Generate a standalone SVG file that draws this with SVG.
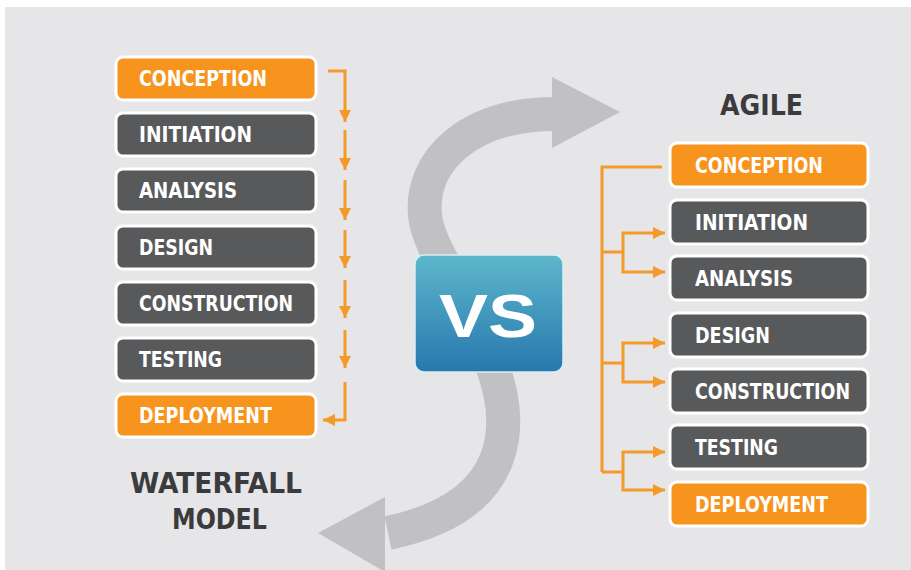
<svg xmlns="http://www.w3.org/2000/svg" width="911" height="570" viewBox="0 0 911 570">
<defs>
<linearGradient id="vsg" x1="0" y1="0" x2="0" y2="1">
<stop offset="0" stop-color="#5db7cc"/>
<stop offset="1" stop-color="#2778ad"/>
</linearGradient>
<marker id="ah" markerUnits="userSpaceOnUse" markerWidth="12" markerHeight="12" refX="12" refY="6" orient="auto">
<path d="M0,0 L12,6 L0,12 z" fill="#f39a2b"/>
</marker>
</defs>
<style>
.box rect{stroke:#ffffff;stroke-width:3}
.or rect{fill:#f7941e}
.dk rect{fill:#58595b}
.box text{font-family:"DejaVu Sans Condensed","DejaVu Sans","Liberation Sans",sans-serif;font-weight:bold;font-size:21px;fill:#ffffff}
.ttl{font-family:"DejaVu Sans Condensed","DejaVu Sans","Liberation Sans",sans-serif;font-weight:bold;fill:#3b3b3d}
.cn{fill:none;stroke:#f39a2b;stroke-width:3}
</style>
<rect x="0" y="0" width="911" height="570" fill="#ffffff"/>
<rect x="5" y="7" width="906" height="563" fill="#e6e6e8"/>

<g id="s-arrow" fill="#c1c1c3">
<path d="M555 114 C470 114 420 160 425 215 C428 252 472 300 490 360 C512 415 522 505 388 533" fill="none" stroke="#c1c1c3" stroke-width="34"/>
<polygon points="552,77 620,112 552,148"/>
<polygon points="385,497 318,533 385,572"/>
</g>

<g id="vs">
<rect x="415" y="255" width="148" height="117" rx="9" fill="url(#vsg)" stroke="#d9eef4" stroke-width="1.5"/>
<text x="439" y="337" textLength="98" lengthAdjust="spacingAndGlyphs" font-family="'Liberation Sans',Arial,sans-serif" font-weight="bold" font-size="61" fill="#ffffff">VS</text>
</g>

<g id="w-conception" class="box or"><rect x="116" y="57" width="200" height="43" rx="7"/><text x="139" y="86" textLength="128" lengthAdjust="spacingAndGlyphs">CONCEPTION</text></g>
<g id="w-initiation" class="box dk"><rect x="116" y="113" width="200" height="43" rx="7"/><text x="139" y="142" textLength="113" lengthAdjust="spacingAndGlyphs">INITIATION</text></g>
<g id="w-analysis" class="box dk"><rect x="116" y="169" width="200" height="43" rx="7"/><text x="139" y="198" textLength="98" lengthAdjust="spacingAndGlyphs">ANALYSIS</text></g>
<g id="w-design" class="box dk"><rect x="116" y="226" width="200" height="43" rx="7"/><text x="139" y="255" textLength="74" lengthAdjust="spacingAndGlyphs">DESIGN</text></g>
<g id="w-construction" class="box dk"><rect x="116" y="282" width="200" height="43" rx="7"/><text x="139" y="311" textLength="154" lengthAdjust="spacingAndGlyphs">CONSTRUCTION</text></g>
<g id="w-testing" class="box dk"><rect x="116" y="338" width="200" height="43" rx="7"/><text x="139" y="367" textLength="83" lengthAdjust="spacingAndGlyphs">TESTING</text></g>
<g id="w-deployment" class="box or"><rect x="116" y="394" width="200" height="43" rx="7"/><text x="139" y="423" textLength="133" lengthAdjust="spacingAndGlyphs">DEPLOYMENT</text></g>

<g id="waterfall-title" class="ttl" font-size="29">
<text x="130" y="493" textLength="172" lengthAdjust="spacingAndGlyphs">WATERFALL</text>
<text x="172" y="529" textLength="95" lengthAdjust="spacingAndGlyphs">MODEL</text>
</g>

<g id="agile-title" class="ttl" font-size="28">
<text x="720" y="115" textLength="83" lengthAdjust="spacingAndGlyphs">AGILE</text>
</g>

<g id="a-conception" class="box or"><rect x="670" y="143" width="198" height="44" rx="7"/><text x="695" y="173" textLength="128" lengthAdjust="spacingAndGlyphs">CONCEPTION</text></g>
<g id="a-initiation" class="box dk"><rect x="670" y="200" width="198" height="44" rx="7"/><text x="695" y="230" textLength="113" lengthAdjust="spacingAndGlyphs">INITIATION</text></g>
<g id="a-analysis" class="box dk"><rect x="670" y="256" width="198" height="44" rx="7"/><text x="695" y="286" textLength="98" lengthAdjust="spacingAndGlyphs">ANALYSIS</text></g>
<g id="a-design" class="box dk"><rect x="670" y="313" width="198" height="44" rx="7"/><text x="695" y="343" textLength="75" lengthAdjust="spacingAndGlyphs">DESIGN</text></g>
<g id="a-construction" class="box dk"><rect x="670" y="369" width="198" height="44" rx="7"/><text x="695" y="399" textLength="155" lengthAdjust="spacingAndGlyphs">CONSTRUCTION</text></g>
<g id="a-testing" class="box dk"><rect x="670" y="425" width="198" height="44" rx="7"/><text x="695" y="455" textLength="83" lengthAdjust="spacingAndGlyphs">TESTING</text></g>
<g id="a-deployment" class="box or"><rect x="670" y="482" width="198" height="44" rx="7"/><text x="695" y="512" textLength="133" lengthAdjust="spacingAndGlyphs">DEPLOYMENT</text></g>

<g id="connectors" class="cn">
<path d="M328 71 H345 V122" marker-end="url(#ah)"/>
<path d="M345 130 V170" marker-end="url(#ah)"/>
<path d="M345 180 V220" marker-end="url(#ah)"/>
<path d="M345 230 V268" marker-end="url(#ah)"/>
<path d="M345 280 V318" marker-end="url(#ah)"/>
<path d="M345 330 V368" marker-end="url(#ah)"/>
<path d="M345 382 V420 H323" marker-end="url(#ah)"/>
<path d="M662 167 H602 V472"/>
<path d="M602 252 H623"/>
<path d="M602 363 H623"/>
<path d="M602 472 H623"/>
<path d="M623 252 V233 H665" marker-end="url(#ah)"/>
<path d="M623 252 V272 H665" marker-end="url(#ah)"/>
<path d="M623 363 V343 H665" marker-end="url(#ah)"/>
<path d="M623 363 V382 H665" marker-end="url(#ah)"/>
<path d="M623 472 V452 H665" marker-end="url(#ah)"/>
<path d="M623 472 V490 H665" marker-end="url(#ah)"/>
</g>
</svg>
